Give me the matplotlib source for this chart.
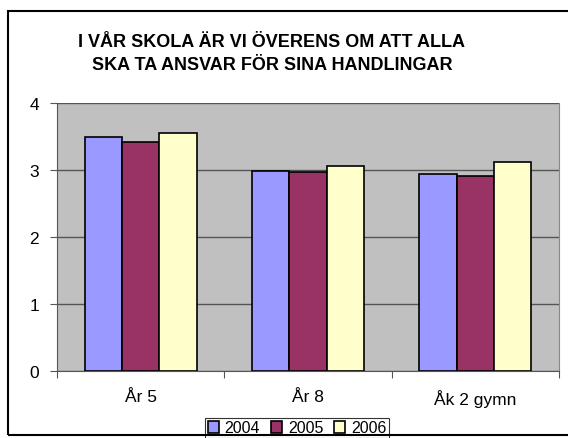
import matplotlib.pyplot as plt
import numpy as np

categories = ["År 5", "År 8", "Åk 2 gymn"]
years = ["2004", "2005", "2006"]
values_2004 = [3.50, 2.99, 2.94]
values_2005 = [3.42, 2.97, 2.91]
values_2006 = [3.55, 3.06, 3.12]
colors = ["#9999FF", "#993366", "#FFFFCC"]

plt.rcParams['font.family'] = ['Liberation Sans', 'DejaVu Sans']

fig = plt.figure(figsize=(5.68, 4.39), dpi=100)
ax = fig.add_axes([57/568, 1 - 372/439, (559-57)/568, (372-104)/439])

# outer chart border
fig.patches.append(plt.Rectangle((8/568, 3/439), 1.2, 424/439, transform=fig.transFigure,
                                 fill=False, edgecolor="black", linewidth=1.5))

x = np.arange(len(categories))
w = 0.223
for i, (vals, lab) in enumerate(zip([values_2004, values_2005, values_2006], years)):
    ax.bar(x + (i - 1) * w, vals, w, color=colors[i], edgecolor="black", linewidth=1.2,
           label=lab, zorder=3)

ax.set_facecolor("#C0C0C0")
ax.set_xlim(-0.5, 2.5)
ax.set_ylim(0, 4)
ax.set_yticks([0, 1, 2, 3, 4])
ax.yaxis.grid(True, color="#555555", linewidth=1, zorder=0)
ax.set_xticks([-0.5, 0.5, 1.5, 2.5], minor=False)
ax.set_xticklabels([])
ax.set_xticks(x, minor=True)
ax.set_xticklabels(categories, minor=True, fontsize=12.5)
ax.tick_params(axis="x", which="minor", length=0, pad=13)
ax.tick_params(axis="x", which="major", length=5, color="#555555")
ax.tick_params(axis="y", length=5, color="#555555", labelsize=12.5, pad=8)
for side in ["left", "bottom"]:
    ax.spines[side].set_color("#555555")
ax.spines["top"].set_visible(False)
ax.spines["right"].set_color("#888888")

fig.text(272/568, 1 - 54/439, "I VÅR SKOLA ÄR VI ÖVERENS OM ATT ALLA\nSKA TA ANSVAR FÖR SINA HANDLINGAR",
         ha="center", va="center", fontsize=13, fontweight="bold", linespacing=1.5)

leg = ax.legend(loc="center", bbox_to_anchor=(297/568, 1 - 429/439), bbox_transform=fig.transFigure,
                ncol=3, fontsize=11.5, frameon=True, fancybox=False, edgecolor="black",
                handlelength=0.7, handleheight=0.7, handletextpad=0.35, columnspacing=0.7,
                borderpad=0.15, borderaxespad=0)
leg.get_frame().set_linewidth(0.8)

fig.savefig("out.png", dpi=100)
